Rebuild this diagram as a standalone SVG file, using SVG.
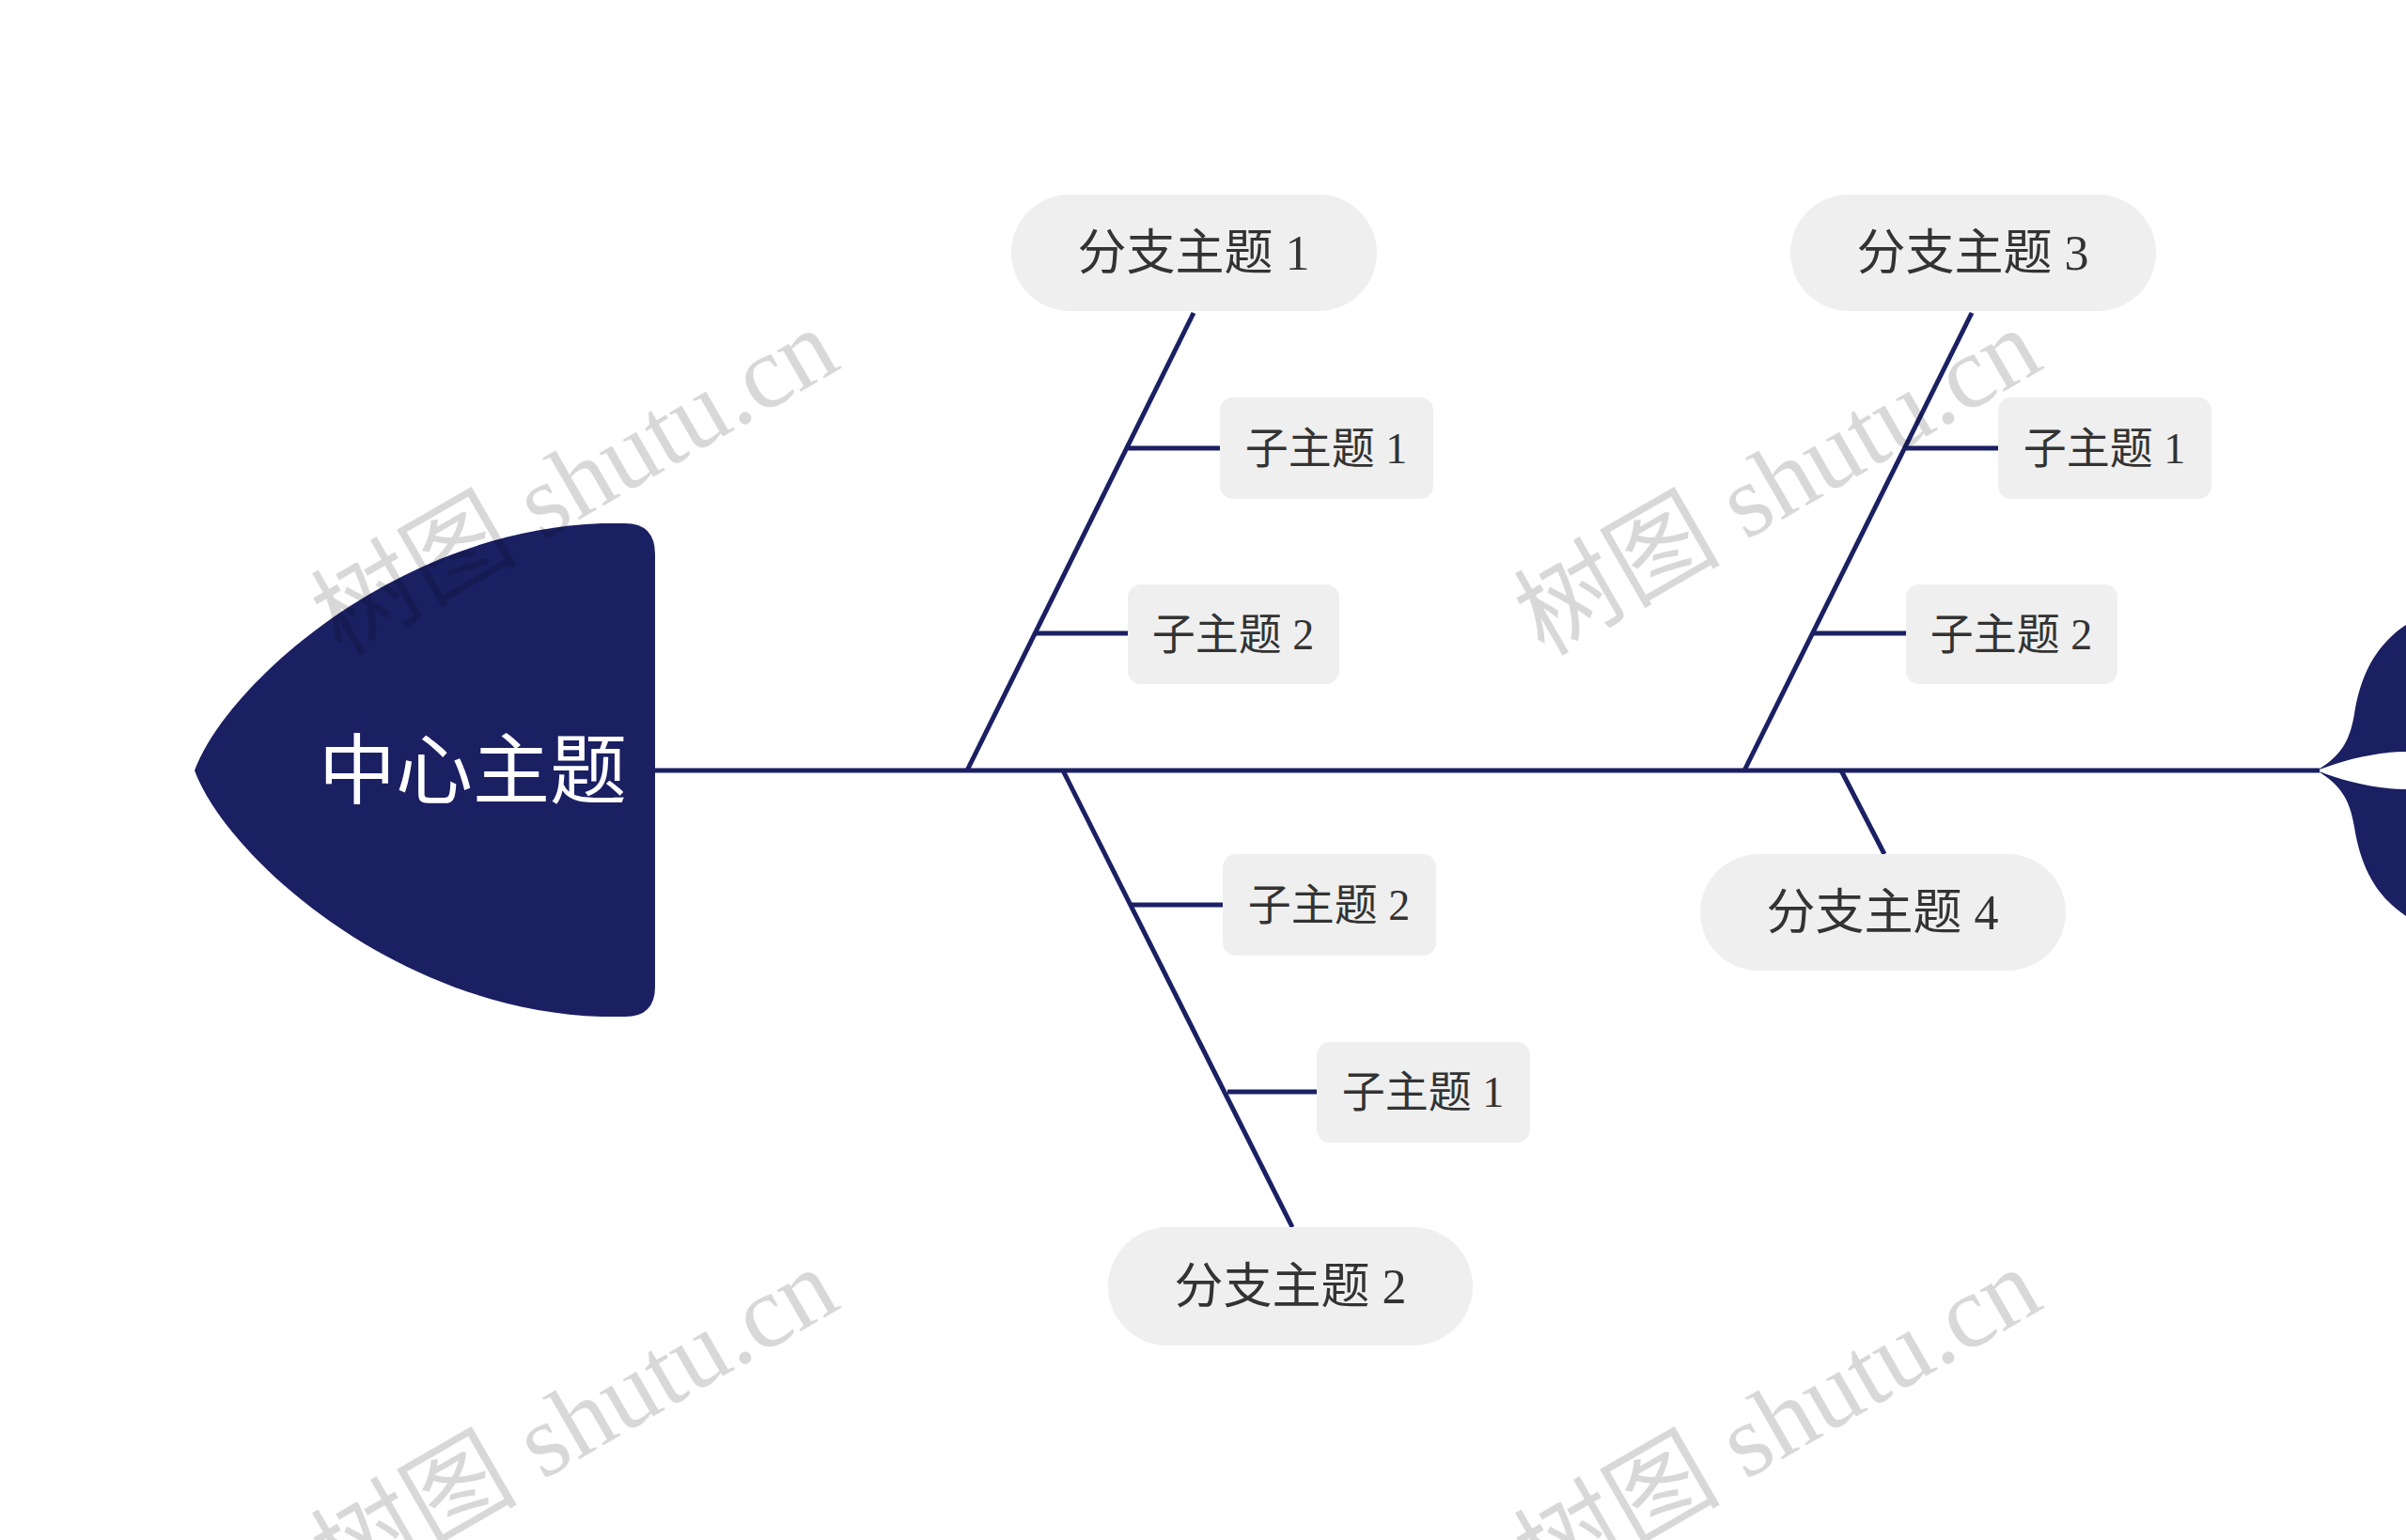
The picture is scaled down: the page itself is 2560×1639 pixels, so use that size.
<svg xmlns="http://www.w3.org/2000/svg" width="2560" height="1639" viewBox="0 0 2560 1639">
<style>
.ln{stroke:#1b2063;stroke-width:5;fill:none}
.pill{fill:#efefef}
.t{font-family:"Liberation Serif","Noto Sans CJK SC",serif;fill:#333;dominant-baseline:central;text-anchor:middle}
.b{font-size:52px}
.s{font-size:46px}
.wm{font-family:"Liberation Serif","Noto Sans CJK SC",serif;font-size:110px;fill:#000;opacity:0.15;text-anchor:middle}
</style>
<rect width="2560" height="1639" fill="#fff"/>
<g id="connectors">
<line class="ln" x1="697" y1="820" x2="2468" y2="820"/>
<line class="ln" x1="1029" y1="820" x2="1270" y2="333"/>
<line class="ln" x1="1200" y1="477" x2="1298" y2="477"/>
<line class="ln" x1="1102" y1="674" x2="1200" y2="674"/>
<line class="ln" x1="1856" y1="820" x2="2098" y2="333"/>
<line class="ln" x1="2028" y1="477" x2="2126" y2="477"/>
<line class="ln" x1="1930" y1="674" x2="2028" y2="674"/>
<line class="ln" x1="1131" y1="820" x2="1375" y2="1306"/>
<line class="ln" x1="1203" y1="963" x2="1301" y2="963"/>
<line class="ln" x1="1306" y1="1162" x2="1401" y2="1162"/>
<line class="ln" x1="1959" y1="820" x2="2005" y2="909"/>
</g>
<g id="center">
<path d="M207,820 C240,730 420,565 640,557 L665,557 Q697,557 697,590 L697,1050 Q697,1082 665,1082 L640,1082 C420,1075 240,910 207,820 Z" fill="#1b2063"/>
<text x="503" y="820" font-family="'Liberation Sans','Noto Sans CJK SC',sans-serif" font-size="82" fill="#fff" text-anchor="middle" dominant-baseline="central">中心主题</text>
</g>
<g id="tail">
<path d="M2465,820 C2490,805 2500,790 2505,760 C2512,715 2530,685 2560,665 L2560,800 C2530,800 2495,808 2465,820 Z" fill="#1b2063"/>
<path d="M2465,820 C2490,835 2500,850 2505,880 C2512,925 2530,955 2560,975 L2560,840 C2530,840 2495,832 2465,820 Z" fill="#1b2063"/>
</g>
<g id="b1"><rect class="pill" x="1076" y="207" width="389" height="124" rx="62"/><text class="t b" x="1270" y="269">分支主题 1</text></g>
<g id="b1s1"><rect class="pill" x="1298" y="423" width="227" height="108" rx="14"/><text class="t s" x="1411" y="477">子主题 1</text></g>
<g id="b1s2"><rect class="pill" x="1200" y="622" width="225" height="106" rx="14"/><text class="t s" x="1312" y="675">子主题 2</text></g>
<g id="b3"><rect class="pill" x="1905" y="207" width="389" height="124" rx="62"/><text class="t b" x="2099" y="269">分支主题 3</text></g>
<g id="b3s1"><rect class="pill" x="2126" y="423" width="227" height="108" rx="14"/><text class="t s" x="2239" y="477">子主题 1</text></g>
<g id="b3s2"><rect class="pill" x="2028" y="622" width="225" height="106" rx="14"/><text class="t s" x="2140" y="675">子主题 2</text></g>
<g id="b2"><rect class="pill" x="1179" y="1306" width="388" height="126" rx="63"/><text class="t b" x="1373" y="1369">分支主题 2</text></g>
<g id="b2s2"><rect class="pill" x="1301" y="909" width="227" height="108" rx="14"/><text class="t s" x="1414" y="963">子主题 2</text></g>
<g id="b2s1"><rect class="pill" x="1401" y="1109" width="227" height="107" rx="14"/><text class="t s" x="1514" y="1162">子主题 1</text></g>
<g id="b4"><rect class="pill" x="1809" y="909" width="389" height="124" rx="62"/><text class="t b" x="2003" y="971">分支主题 4</text></g>
<g id="watermarks">
<text class="wm" transform="translate(630,545) rotate(-30)">树图 shutu.cn</text>
<text class="wm" transform="translate(1910,545) rotate(-30)">树图 shutu.cn</text>
<text class="wm" transform="translate(630,1545) rotate(-30)">树图 shutu.cn</text>
<text class="wm" transform="translate(1910,1545) rotate(-30)">树图 shutu.cn</text>
</g>
</svg>
